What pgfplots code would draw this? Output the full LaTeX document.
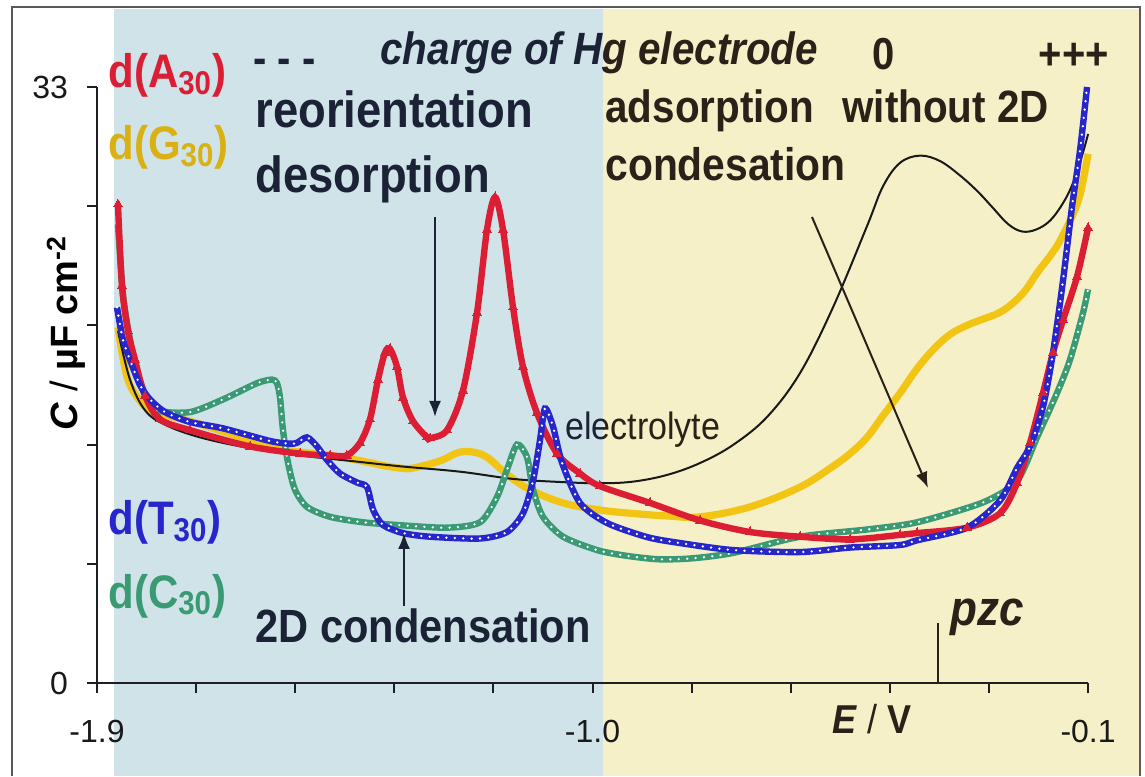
\documentclass[border=0pt]{standalone}
\usepackage{pgfplots}
\pgfplotsset{compat=1.18}
\usepackage{pgfplotstable}
\usepackage{fontspec}
\setmainfont{Liberation Sans}
\usetikzlibrary{arrows.meta}

\definecolor{cred}{HTML}{DC1E34}
\definecolor{cyel}{HTML}{F2C414}
\definecolor{cblu}{HTML}{2626CC}
\definecolor{cgrn}{HTML}{3A9A74}
\definecolor{bgblue}{HTML}{CFE3E9}
\definecolor{bgyel}{HTML}{F6F0C9}
\definecolor{navy}{HTML}{1B2236}
\definecolor{brn}{HTML}{2B2119}
\definecolor{axcol}{HTML}{1E1E24}

\newcommand\fs[1]{\fontsize{#1}{#1}\selectfont}
\newcommand\vs[1]{\scalebox{1}[1.12]{#1}}

\pgfplotstableread{
E C
-1.8619 19.5
-1.8401 16.8
-1.8128 15.1
-1.7765 14.3
-1.7129 13.6
-1.6221 13.0
-1.5313 12.6
-1.4405 12.3
-1.3497 12.0
-1.2407 11.7
-1.1444 11.3
-1.0591 11.13
-0.9865 11.06
-0.9265 11.15
-0.8648 11.52
-0.8048 12.18
-0.7449 13.18
-0.6831 14.73
-0.6232 17.16
-0.5633 20.8
-0.5015 25.3
-0.4725 27.5
-0.4416 28.8
-0.4053 29.2
-0.3690 28.9
-0.3326 28.1
-0.3000 27.2
-0.2727 26.3
-0.2450 25.4
-0.2200 25.0
-0.1950 25.1
-0.1691 25.6
-0.1450 26.6
-0.1273 27.7
-0.1100 29.3
-0.1000 30.4
}\blk

\pgfplotstableread{
E C
-1.8619 19.7
-1.8528 18.0
-1.8401 16.5
-1.8128 15.3
-1.7910 14.95
-1.7311 14.5
-1.6584 13.8
-1.5858 13.1
-1.5495 12.85
-1.4768 12.6
-1.4042 12.2
-1.3860 12.07
-1.3497 11.9
-1.3261 11.9
-1.2770 12.3
-1.2450 12.75
-1.2200 12.8
-1.1917 12.5
-1.1554 11.55
-1.1136 10.7
-1.0536 9.97
-0.9919 9.6
-0.9320 9.4
-0.8650 9.25
-0.8048 9.2
-0.7140 9.75
-0.6232 10.85
-0.5633 12.0
-0.5324 12.7
-0.5015 13.6
-0.4725 14.8
-0.4416 16.05
-0.4107 17.4
-0.3800 18.5
-0.3508 19.3
-0.3200 19.8
-0.2908 20.15
-0.2650 20.45
-0.2418 20.9
-0.2150 21.7
-0.1928 22.7
-0.1700 23.6
-0.1564 24.2
-0.1328 25.6
-0.1150 27.0
-0.1000 29.3
}\yel

\pgfplotstableread{
E C
-1.8619 26.5
-1.8546 22.0
-1.8437 19.5
-1.8310 17.9
-1.8128 15.9
-1.7856 14.6
-1.7311 14.0
-1.6221 13.1
-1.5313 12.7
-1.4768 12.6
-1.4460 12.6
-1.4223 13.3
-1.4042 14.6
-1.3896 16.8
-1.3769 18.3
-1.3678 18.5
-1.3551 17.5
-1.3442 15.8
-1.3261 14.5
-1.3007 13.6
-1.2952 13.55
-1.2643 14.0
-1.2353 16.2
-1.2098 20.5
-1.1917 25.1
-1.1771 26.9
-1.1626 25.1
-1.1444 20.8
-1.1263 17.5
-1.1009 14.95
-1.0645 12.7
-1.0228 11.6
-0.9865 10.9
-0.8956 9.97
-0.8048 9.0
-0.7140 8.36
-0.6232 8.1
-0.5324 7.95
-0.4416 8.2
-0.4107 8.3
-0.3199 8.6
-0.2600 9.4
-0.2291 11.07
-0.2055 13.3
-0.1819 16.06
-0.1637 18.3
-0.1455 20.1
-0.1201 22.5
-0.1001 25.2
}\red

\pgfplotstableread{
E C
-1.8637 20.8
-1.8528 19.0
-1.8401 17.9
-1.8219 16.5
-1.8037 15.7
-1.7765 15.0
-1.7311 14.45
-1.6712 14.1
-1.5858 13.4
-1.5495 13.25
-1.5368 13.3
-1.5186 13.6
-1.5004 13.1
-1.4823 12.35
-1.4587 11.6
-1.4278 11.1
-1.4096 10.85
-1.3987 9.6
-1.3806 8.75
-1.3442 8.3
-1.2952 8.1
-1.2044 8.0
-1.1554 8.36
-1.1263 9.4
-1.1081 11.2
-1.0954 13.45
-1.0864 15.2
-1.0718 14.2
-1.0555 12.2
-1.0228 9.97
-0.9737 8.86
-0.9011 8.08
-0.8412 7.75
-0.7449 7.36
-0.6232 7.25
-0.5324 7.5
-0.4416 7.64
-0.4107 7.9
-0.3199 8.6
-0.2600 10.1
-0.2291 11.9
-0.2055 13.1
-0.1819 15.3
-0.1637 18.3
-0.1455 22.3
-0.1291 26.4
-0.1146 29.5
-0.1019 33.0
}\blu

\pgfplotstableread{
E C
-1.8619 25.4
-1.8528 21.5
-1.8401 19.0
-1.8310 17.6
-1.8128 16.0
-1.7910 15.1
-1.7311 15.0
-1.6712 15.7
-1.6094 16.6
-1.5822 16.8
-1.5731 16.6
-1.5676 15.8
-1.5622 14.0
-1.5531 12.2
-1.5404 10.7
-1.5186 9.75
-1.4768 9.2
-1.4169 8.9
-1.3551 8.75
-1.2643 8.6
-1.2044 8.9
-1.1735 10.3
-1.1554 11.8
-1.1372 13.2
-1.1190 12.5
-1.1081 10.7
-1.0900 9.2
-1.0536 8.1
-0.9919 7.36
-0.9400 7.05
-0.8800 6.85
-0.8200 6.9
-0.7449 7.2
-0.6232 8.1
-0.5015 8.5
-0.4107 8.9
-0.2908 10.0
-0.2291 11.2
-0.1928 13.6
-0.1564 16.06
-0.1328 17.9
-0.1092 20.5
-0.1001 21.8
}\grn

\tikzset{pxs/.style={x=0.5pt,y=-0.5pt,shift={(-48.5pt,341.5pt)}}}

\begin{document}
\begin{tikzpicture}
% backgrounds (pixel coordinates of the figure)
\begin{scope}[pxs]
  \fill[white] (0,0) rectangle (1145,776);
  \fill[bgblue] (114,9) rectangle (603,776);
  \fill[bgyel] (603,9) rectangle (1140,776);
  \draw[line width=1pt, color=black!65] (12,776) -- (12,7) -- (1140,7) -- (1140,776);
\end{scope}

\begin{axis}[
  at={(0,0)}, anchor=south west,
  scale only axis, width=495.55pt, height=298pt,
  xmin=-1.9, xmax=-0.1, ymin=0, ymax=33,
  enlargelimits=false, clip=false,
  axis lines*=left,
  axis line style={line width=1pt, color=axcol},
  tick align=outside, major tick length=5pt,
  tick style={line width=1pt, color=axcol},
  xtick={-1.9,-1.72,-1.54,-1.36,-1.18,-1.0,-0.82,-0.64,-0.46,-0.28,-0.1},
  xticklabels={-1.9,,,,,-1.0,,,,,-0.1},
  ytick={0,6.6,13.2,19.8,26.4,33},
  yticklabels={0,,,,,33},
  ticklabel style={font=\fs{16}, text=black!90},
  xticklabel style={yshift=-10pt},
  yticklabel style={xshift=-6pt},
]
\addplot[draw=cyel, line width=3.6pt, smooth, tension=0.6] table {\yel};
\addplot[draw=black!90, line width=1pt, smooth, tension=0.6] table {\blk};
\addplot[draw=cgrn, line width=3.2pt, smooth, tension=0.45] table {\grn};
\addplot[draw=white, line width=1.3pt, smooth, tension=0.45, dash pattern=on 0pt off 4.2pt, line cap=round] table {\grn};
\addplot[draw=cred, line width=3.2pt, smooth, tension=0.5] table {\red};
\addplot[draw=cred, line width=0pt, only marks, mark=triangle*, mark size=2.6pt, mark options={fill=cred, draw=cred}] table {\red};
\addplot[draw=cblu, line width=3.2pt, smooth, tension=0.45] table {\blu};
\addplot[draw=white, line width=1.3pt, smooth, tension=0.45, dash pattern=on 0pt off 4.2pt, line cap=round] table {\blu};
\end{axis}

\begin{scope}[pxs]
  % pzc marker line
  \draw[line width=1pt, color=brn] (938,683) -- (938,623);
  % arrows
  \draw[line width=1pt, navy, -{Latex[length=8pt,width=6pt]}] (435,217) -- (435,417);
  \draw[line width=1pt, navy, -{Latex[length=8pt,width=6pt]}] (404,606) -- (404,533);
  \draw[line width=1pt, brn, -{Latex[length=8pt,width=6pt]}] (812,217) -- (928,488);

  % series labels
  \node[anchor=base west, inner sep=0, text=cred, font=\bfseries\fs{21}] at (108,88) {\vs{d(A\textsubscript{30})}};
  \node[anchor=base west, inner sep=0, text=cyel!90!black, font=\bfseries\fs{21}] at (108,160) {\vs{d(G\textsubscript{30})}};
  \node[anchor=base west, inner sep=0, text=cblu, font=\bfseries\fs{21}] at (108,535) {\vs{d(T\textsubscript{30})}};
  \node[anchor=base west, inner sep=0, text=cgrn, font=\bfseries\fs{21}] at (108,608) {\vs{d(C\textsubscript{30})}};

  % top row
  \node[anchor=base west, inner sep=0, text=navy, font=\bfseries\fs{20}] at (253,74) {\vs{- - -}};
  \begin{scope}
    \clip (0,0) rectangle (603,776);
    \node[anchor=base west, inner sep=0, text=navy, font=\bfseries\itshape\fs{20.2}] at (380,65) {\vs{charge of Hg electrode}};
    \node[anchor=base west, inner sep=0, text=navy, font=\fs{17}] at (565,440) {\vs{electrolyte}};
  \end{scope}
  \begin{scope}
    \clip (603,0) rectangle (1145,776);
    \node[anchor=base west, inner sep=0, text=brn, font=\bfseries\itshape\fs{20.2}] at (380,65) {\vs{charge of Hg electrode}};
    \node[anchor=base west, inner sep=0, text=brn, font=\fs{17}] at (565,440) {\vs{electrolyte}};
  \end{scope}
  \node[anchor=base, inner sep=0, text=brn, font=\bfseries\fs{20}] at (884,70) {\vs{0}};
  \node[anchor=base, inner sep=0, text=brn, font=\bfseries\fs{20}] at (1074,70) {\vs{+++}};

  % annotations
  \node[anchor=base west, inner sep=0, text=navy, font=\bfseries\fs{22.7}] at (255,128) {\vs{reorientation}};
  \node[anchor=base west, inner sep=0, text=navy, font=\bfseries\fs{22.7}] at (255,193) {\vs{desorption}};
  \node[anchor=base west, inner sep=0, text=brn, font=\bfseries\fs{20.2}] at (605,123) {\vs{adsorption}};
  \node[anchor=base west, inner sep=0, text=brn, font=\bfseries\fs{20.2}] at (842,123) {\vs{without 2D}};
  \node[anchor=base west, inner sep=0, text=brn, font=\bfseries\fs{20.4}] at (605,181) {\vs{condesation}};
  \node[anchor=base west, inner sep=0, text=navy, font=\bfseries\fs{20.8}] at (255,643) {\vs{2D condensation}};
  \node[anchor=base west, inner sep=0, text=brn, font=\bfseries\itshape\fs{22}] at (950,625) {\vs{pzc}};

  % axis labels
  \node[rotate=90, anchor=base, inner sep=0, text=black, font=\fs{19}] at (78,333) {\textbf{\textit{C}} / \textbf{µF cm\textsuperscript{-2}}};
  \node[anchor=base, inner sep=0, text=brn, font=\fs{18}] at (872,733) {\vs{\textbf{\textit{E}} / \textbf{V}}};
\end{scope}

\pgfresetboundingbox
\path[use as bounding box, pxs] (0,0) rectangle (1145,776);
\end{tikzpicture}
\end{document}
